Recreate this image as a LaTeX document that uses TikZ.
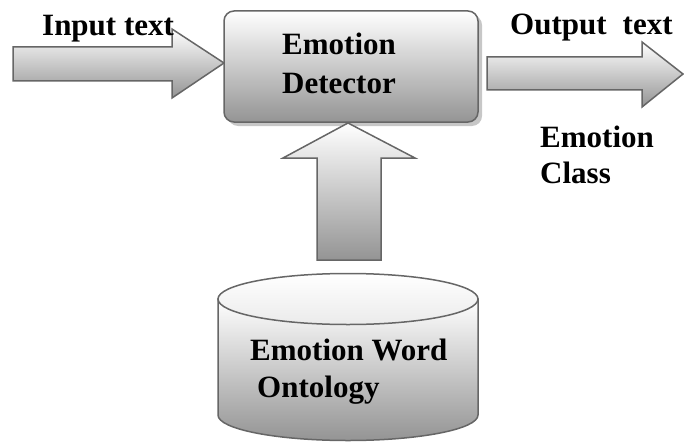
\documentclass[tikz,border=0pt]{standalone}
\usepackage{fontspec}
\setmainfont{Liberation Serif}
\begin{document}
\begin{tikzpicture}[x=1pt,y=1pt,
  lbl/.style={font=\fontsize{31}{37}\selectfont\bfseries, anchor=base west, inner sep=0pt},
  edge/.style={draw=black!60, line width=1.5pt, line join=miter},
  grad/.style={top color=white, bottom color=black!42}]
\useasboundingbox (0,0) rectangle (684,-441);
% input arrow
\shade[grad, edge] (13,-47) -- (172,-47) -- (172,-29) -- (224,-63) -- (172,-98) -- (172,-81) -- (13,-81) -- cycle;
% output arrow
\shade[grad, edge] (487,-57) -- (642,-57) -- (642,-42) -- (683,-74) -- (642,-107) -- (642,-90) -- (487,-90) -- cycle;
% detector box
\fill[black!22, rounded corners=10pt] (228,-15) rectangle (482,-126);
\node[grad, edge, rounded corners=10pt, minimum width=254pt, minimum height=111pt, inner sep=0pt] (det) at (351,-66.5) {};
\node[lbl] (det1) at (282,-55) {Emotion};
\node[lbl] (det2) at (282,-93) {Detector};
% up arrow
\shade[grad, edge] (317,-260) -- (317,-158) -- (283,-158) -- (348,-123) -- (415,-158) -- (381,-158) -- (381,-260) -- cycle;
% cylinder
\shade[grad, edge] (218,-299) -- (218,-415) arc[start angle=180, end angle=360, x radius=130, y radius=25.5] -- (478,-299) -- cycle;
\shade[top color=white, bottom color=black!8, edge] (348,-299) ellipse[x radius=130, y radius=25.5];
\node[lbl] (ont1) at (250,-360) {Emotion Word};
\node[lbl] (ont2) at (257,-397) {Ontology};
% labels
\node[lbl] (in) at (42,-36) {Input text};
\node[lbl] (out) at (510,-35) {Output\hspace{16pt}text};
\node[lbl] (cls1) at (540,-147) {Emotion};
\node[lbl] (cls2) at (540,-183) {Class};
\end{tikzpicture}
\end{document}
